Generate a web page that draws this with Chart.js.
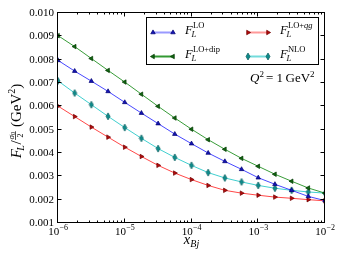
<!DOCTYPE html>
<html>
<head>
<meta charset="utf-8">
<script src="https://cdn.jsdelivr.net/npm/chart.js@4.4.1/dist/chart.umd.min.js"></script>
<style>
  html, body { margin: 0; padding: 0; background: #fff; }
  #wrap { width: 344px; height: 258px; }
</style>
</head>
<body>
<div id="wrap"><canvas id="chart" width="344" height="258"></canvas></div>
<script>
// x_Bj sample points (quarter decades)
const xBj = [1e-6, 1.778e-6, 3.162e-6, 5.623e-6,
             1e-5, 1.778e-5, 3.162e-5, 5.623e-5,
             1e-4, 1.778e-4, 3.162e-4, 5.623e-4,
             1e-3, 1.778e-3, 3.162e-3, 5.623e-3, 1e-2];

const fLO    = [0.00797, 0.00751, 0.00708, 0.00664, 0.00617, 0.00571, 0.00526, 0.00481, 0.00440,
                0.00400, 0.00364, 0.00330, 0.00294, 0.00266, 0.00240, 0.00214, 0.00196];
const fLOdip = [0.00903, 0.00856, 0.00805, 0.00754, 0.00704, 0.00652, 0.00600, 0.00550, 0.00502,
                0.00457, 0.00416, 0.00377, 0.00343, 0.00309, 0.00279, 0.00250, 0.00228];
const fLOqg  = [0.00601, 0.00556, 0.00511, 0.00468, 0.00425, 0.00385, 0.00347, 0.00314, 0.00286,
                0.00261, 0.00240, 0.00228, 0.00219, 0.00211, 0.00206, 0.00200, 0.00195];
const fNLO   = [0.00709, 0.00657, 0.00607, 0.00557, 0.00509, 0.00463, 0.00419, 0.00381, 0.00347,
                0.00316, 0.00293, 0.00276, 0.00261, 0.00249, 0.00240, 0.00233, 0.00228];

const yMin = 0.001, yMax = 0.010, yStep = 0.001;
const xMajor = [1e-6, 1e-5, 1e-4, 1e-3, 1e-2];
const xMajorExp = ['\u22126', '\u22125', '\u22124', '\u22123', '\u22122'];

const SERIF = '"Liberation Serif", "DejaVu Serif", serif';
function font(size, italic) { return (italic ? 'italic ' : '') + size + 'px ' + SERIF; }

// thin diamond marker for NLO
function thinDiamond() {
    const c = document.createElement('canvas');
    c.width = 6; c.height = 9;
    const g = c.getContext('2d');
    g.beginPath();
    g.moveTo(3, 1); g.lineTo(5, 4.5); g.lineTo(3, 8); g.lineTo(1, 4.5); g.closePath();
    g.fillStyle = '#0d8c8c'; g.fill();
    g.strokeStyle = '#065a5a'; g.lineWidth = 0.7; g.stroke();
    return c;
}
const diamond = thinDiamond();

const series = [
    { data: fLO,    line: 'rgba(0,0,255,0.72)',   fill: '#1414b4', edge: '#00006e', style: 'triangle', rot: 0,
      legend: 'rgba(0,0,255,0.4)', sup: [['LO', false]] },
    { data: fLOdip, line: 'rgba(0,128,0,0.78)',   fill: '#116611', edge: '#003800', style: 'triangle', rot: -90,
      legend: 'rgba(0,128,0,0.8)', sup: [['LO+dip', false]] },
    { data: fLOqg,  line: 'rgba(255,0,0,0.72)',   fill: '#b40a0a', edge: '#6e0000', style: 'triangle', rot: 90,
      legend: 'rgba(255,0,0,0.4)', sup: [['LO+', false], ['qg', true]] },
    { data: fNLO,   line: 'rgba(0,191,191,0.75)', fill: '#0d8c8c', edge: '#065a5a', style: diamond, rot: 0,
      legend: 'rgba(0,191,191,0.55)', sup: [['NLO', false]] }
];

function drawFL(ctx, x, y, sup) {
    ctx.fillStyle = '#000';
    ctx.textAlign = 'left';
    ctx.textBaseline = 'alphabetic';
    ctx.font = font(12.5, true);
    ctx.fillText('F', x, y);
    const w = ctx.measureText('F').width;
    ctx.font = font(8.5, true);
    ctx.fillText('L', x + w - 1.2, y + 3);
    let cx = x + w + 0.3;
    sup.forEach(([t, it]) => {
        ctx.font = font(8.5, it);
        ctx.fillText(t, cx, y - 6);
        cx += ctx.measureText(t).width;
    });
}

// draw a sequence of text runs left to right
function drawRuns(ctx, x, y, runs, measureOnly) {
    let cx = x;
    runs.forEach(r => {
        ctx.font = font(r.size, r.it);
        if (!measureOnly) ctx.fillText(r.t, cx, y + (r.dy || 0));
        cx += ctx.measureText(r.t).width + (r.gap || 0);
    });
    return cx - x;
}

const decor = {
    id: 'decor',
    afterDraw(chart) {
        const ctx = chart.ctx;
        const a = chart.chartArea;
        const xs = chart.scales.x, ys = chart.scales.y;
        const L = Math.round(a.left) - 0.5, R = Math.round(a.right) - 0.5;
        const T = Math.round(a.top) - 0.5, B = Math.round(a.bottom) - 0.5;
        ctx.save();
        ctx.strokeStyle = '#000';
        ctx.lineWidth = 1;
        ctx.strokeRect(L, T, R - L, B - T);

        // x ticks (inward, top and bottom)
        ctx.beginPath();
        for (let d = -6; d <= -2; d++) {
            for (let m = 1; m <= 9; m++) {
                const v = m * Math.pow(10, d);
                if (v > 1e-2 * 1.0001) break;
                const px = Math.round(xs.getPixelForValue(v)) - 0.5;
                const len = m === 1 ? 4 : 2;
                ctx.moveTo(px, B); ctx.lineTo(px, B - len);
                ctx.moveTo(px, T); ctx.lineTo(px, T + len);
            }
        }
        // y ticks (inward, left and right)
        for (let v = yMin; v <= yMax + 1e-9; v += yStep) {
            const py = Math.round(ys.getPixelForValue(v)) - 0.5;
            ctx.moveTo(L, py); ctx.lineTo(L + 4, py);
            ctx.moveTo(R, py); ctx.lineTo(R - 4, py);
        }
        ctx.stroke();

        // x tick labels 10^-n
        ctx.fillStyle = '#000';
        ctx.textBaseline = 'alphabetic';
        ctx.textAlign = 'left';
        xMajor.forEach((v, i) => {
            const px = xs.getPixelForValue(v);
            ctx.font = font(11, false);
            const w1 = ctx.measureText('10').width;
            ctx.font = font(8, false);
            const w2 = ctx.measureText(xMajorExp[i]).width;
            const x0 = px - (w1 + w2) / 2;
            ctx.font = font(11, false);
            ctx.fillText('10', x0, 235);
            ctx.font = font(8, false);
            ctx.fillText(xMajorExp[i], x0 + w1 + 0.3, 230);
        });

        // x axis title x_Bj
        ctx.font = font(14.5, true);
        const wx = ctx.measureText('x').width;
        ctx.font = font(10, true);
        const wb = ctx.measureText('Bj').width;
        const xt = (a.left + a.right) / 2 - (wx + wb) / 2;
        ctx.font = font(14.5, true);
        ctx.fillText('x', xt, 244);
        ctx.font = font(10, true);
        ctx.fillText('Bj', xt + wx, 247);

        // y axis title, rotated
        ctx.save();
        ctx.translate(16, 121);
        ctx.rotate(-Math.PI / 2);
        const yb = 4.5;
        const before = [{ t: 'F', size: 15, it: true }];
        const sub = [{ t: 'L', size: 10, it: true, dy: 3.5, gap: 0.5 }, { t: '/', size: 15 }];
        const after = [{ t: ' (GeV', size: 15 }, { t: '2', size: 10, dy: -6 }, { t: ')', size: 15 }];
        ctx.font = font(9, true); const ws = ctx.measureText('\u03c3').width;
        ctx.font = font(6.5, false); const w0 = ctx.measureText('0').width;
        const fracW = ws + w0 + 2;
        const wBefore = drawRuns(ctx, 0, 0, before, true) - 1.5;
        const wSub = drawRuns(ctx, 0, 0, sub, true);
        const wAfter = drawRuns(ctx, 0, 0, after, true);
        let cx = -(wBefore + wSub + fracW + wAfter) / 2;
        drawRuns(ctx, cx, yb, before); cx += wBefore;
        drawRuns(ctx, cx, yb, sub); cx += wSub;
        // fraction sigma_0 / 2
        ctx.font = font(9, true); ctx.fillText('\u03c3', cx + 1, yb - 7);
        ctx.font = font(6.5, false); ctx.fillText('0', cx + 1 + ws, yb - 5.5);
        ctx.fillRect(cx + 0.5, yb - 5.2, fracW - 1, 0.7);
        ctx.font = font(8, false); ctx.fillText('2', cx + fracW / 2 - 2, yb + 2.5);
        cx += fracW;
        drawRuns(ctx, cx, yb, after);
        ctx.restore();

        // legend box
        const bx = 146.5, by = 17.5, bw = 172, bh = 47;
        ctx.fillStyle = '#fff';
        ctx.fillRect(bx, by, bw, bh);
        ctx.strokeStyle = '#000';
        ctx.lineWidth = 1;
        ctx.strokeRect(bx, by, bw, bh);
        const cols = [153, 248], rows = [32.5, 56.5];
        series.forEach((s, i) => {
            const hx = cols[Math.floor(i / 2)], hy = rows[i % 2];
            ctx.strokeStyle = s.legend;
            ctx.lineWidth = 2;
            ctx.beginPath(); ctx.moveTo(hx, hy); ctx.lineTo(hx + 20, hy); ctx.stroke();
            const opts = { pointStyle: s.style, radius: 2.6, rotation: s.rot, borderWidth: 0.7 };
            ctx.fillStyle = s.fill; ctx.strokeStyle = s.edge; ctx.lineWidth = 0.7;
            Chart.helpers.drawPoint(ctx, opts, hx, hy);
            ctx.fillStyle = s.fill; ctx.strokeStyle = s.edge;
            Chart.helpers.drawPoint(ctx, opts, hx + 20, hy);
            drawFL(ctx, hx + 32, hy + 1.5, s.sup);
        });

        // Q^2 annotation
        ctx.fillStyle = '#000';
        const qRuns = [{ t: 'Q', size: 13, it: true }, { t: '2', size: 9, dy: -5.5, gap: 2 },
                       { t: '= 1\u2009GeV', size: 13 }, { t: '2', size: 9, dy: -5.5 }];
        drawRuns(ctx, 250, 82, qRuns);
        ctx.restore();
    }
};

const datasets = series.map((s, i) => ({
    label: 'F' + i,
    data: xBj.map((x, k) => ({ x: x, y: s.data[k] })),
    borderColor: s.line,
    borderWidth: 1,
    backgroundColor: s.fill,
    pointBackgroundColor: s.fill,
    pointBorderColor: s.edge,
    pointBorderWidth: 0.7,
    pointStyle: s.style,
    pointRotation: s.rot,
    pointRadius: 2.6,
    pointHoverRadius: 2.6,
    tension: 0,
    fill: false,
    clip: 0
}));

new Chart(document.getElementById('chart'), {
    type: 'line',
    data: { datasets: datasets },
    options: {
        responsive: false,
        animation: false,
        events: [],
        layout: { padding: { left: 0, right: 19, top: 13, bottom: 0 } },
        plugins: { legend: { display: false }, tooltip: { enabled: false } },
        scales: {
            x: {
                type: 'logarithmic',
                min: 1e-6, max: 1e-2,
                grid: { display: false, drawTicks: false },
                border: { display: false },
                ticks: { display: false },
                afterFit: s => { s.height = 35; }
            },
            y: {
                type: 'linear',
                min: yMin, max: yMax,
                grid: { display: false, drawTicks: false },
                border: { display: false },
                ticks: {
                    stepSize: yStep,
                    padding: 4,
                    color: '#000',
                    font: { family: SERIF, size: 11 },
                    callback: v => v.toFixed(3)
                },
                afterFit: s => { s.width = 58; }
            }
        }
    },
    plugins: [decor]
});
</script>
</body>
</html>
